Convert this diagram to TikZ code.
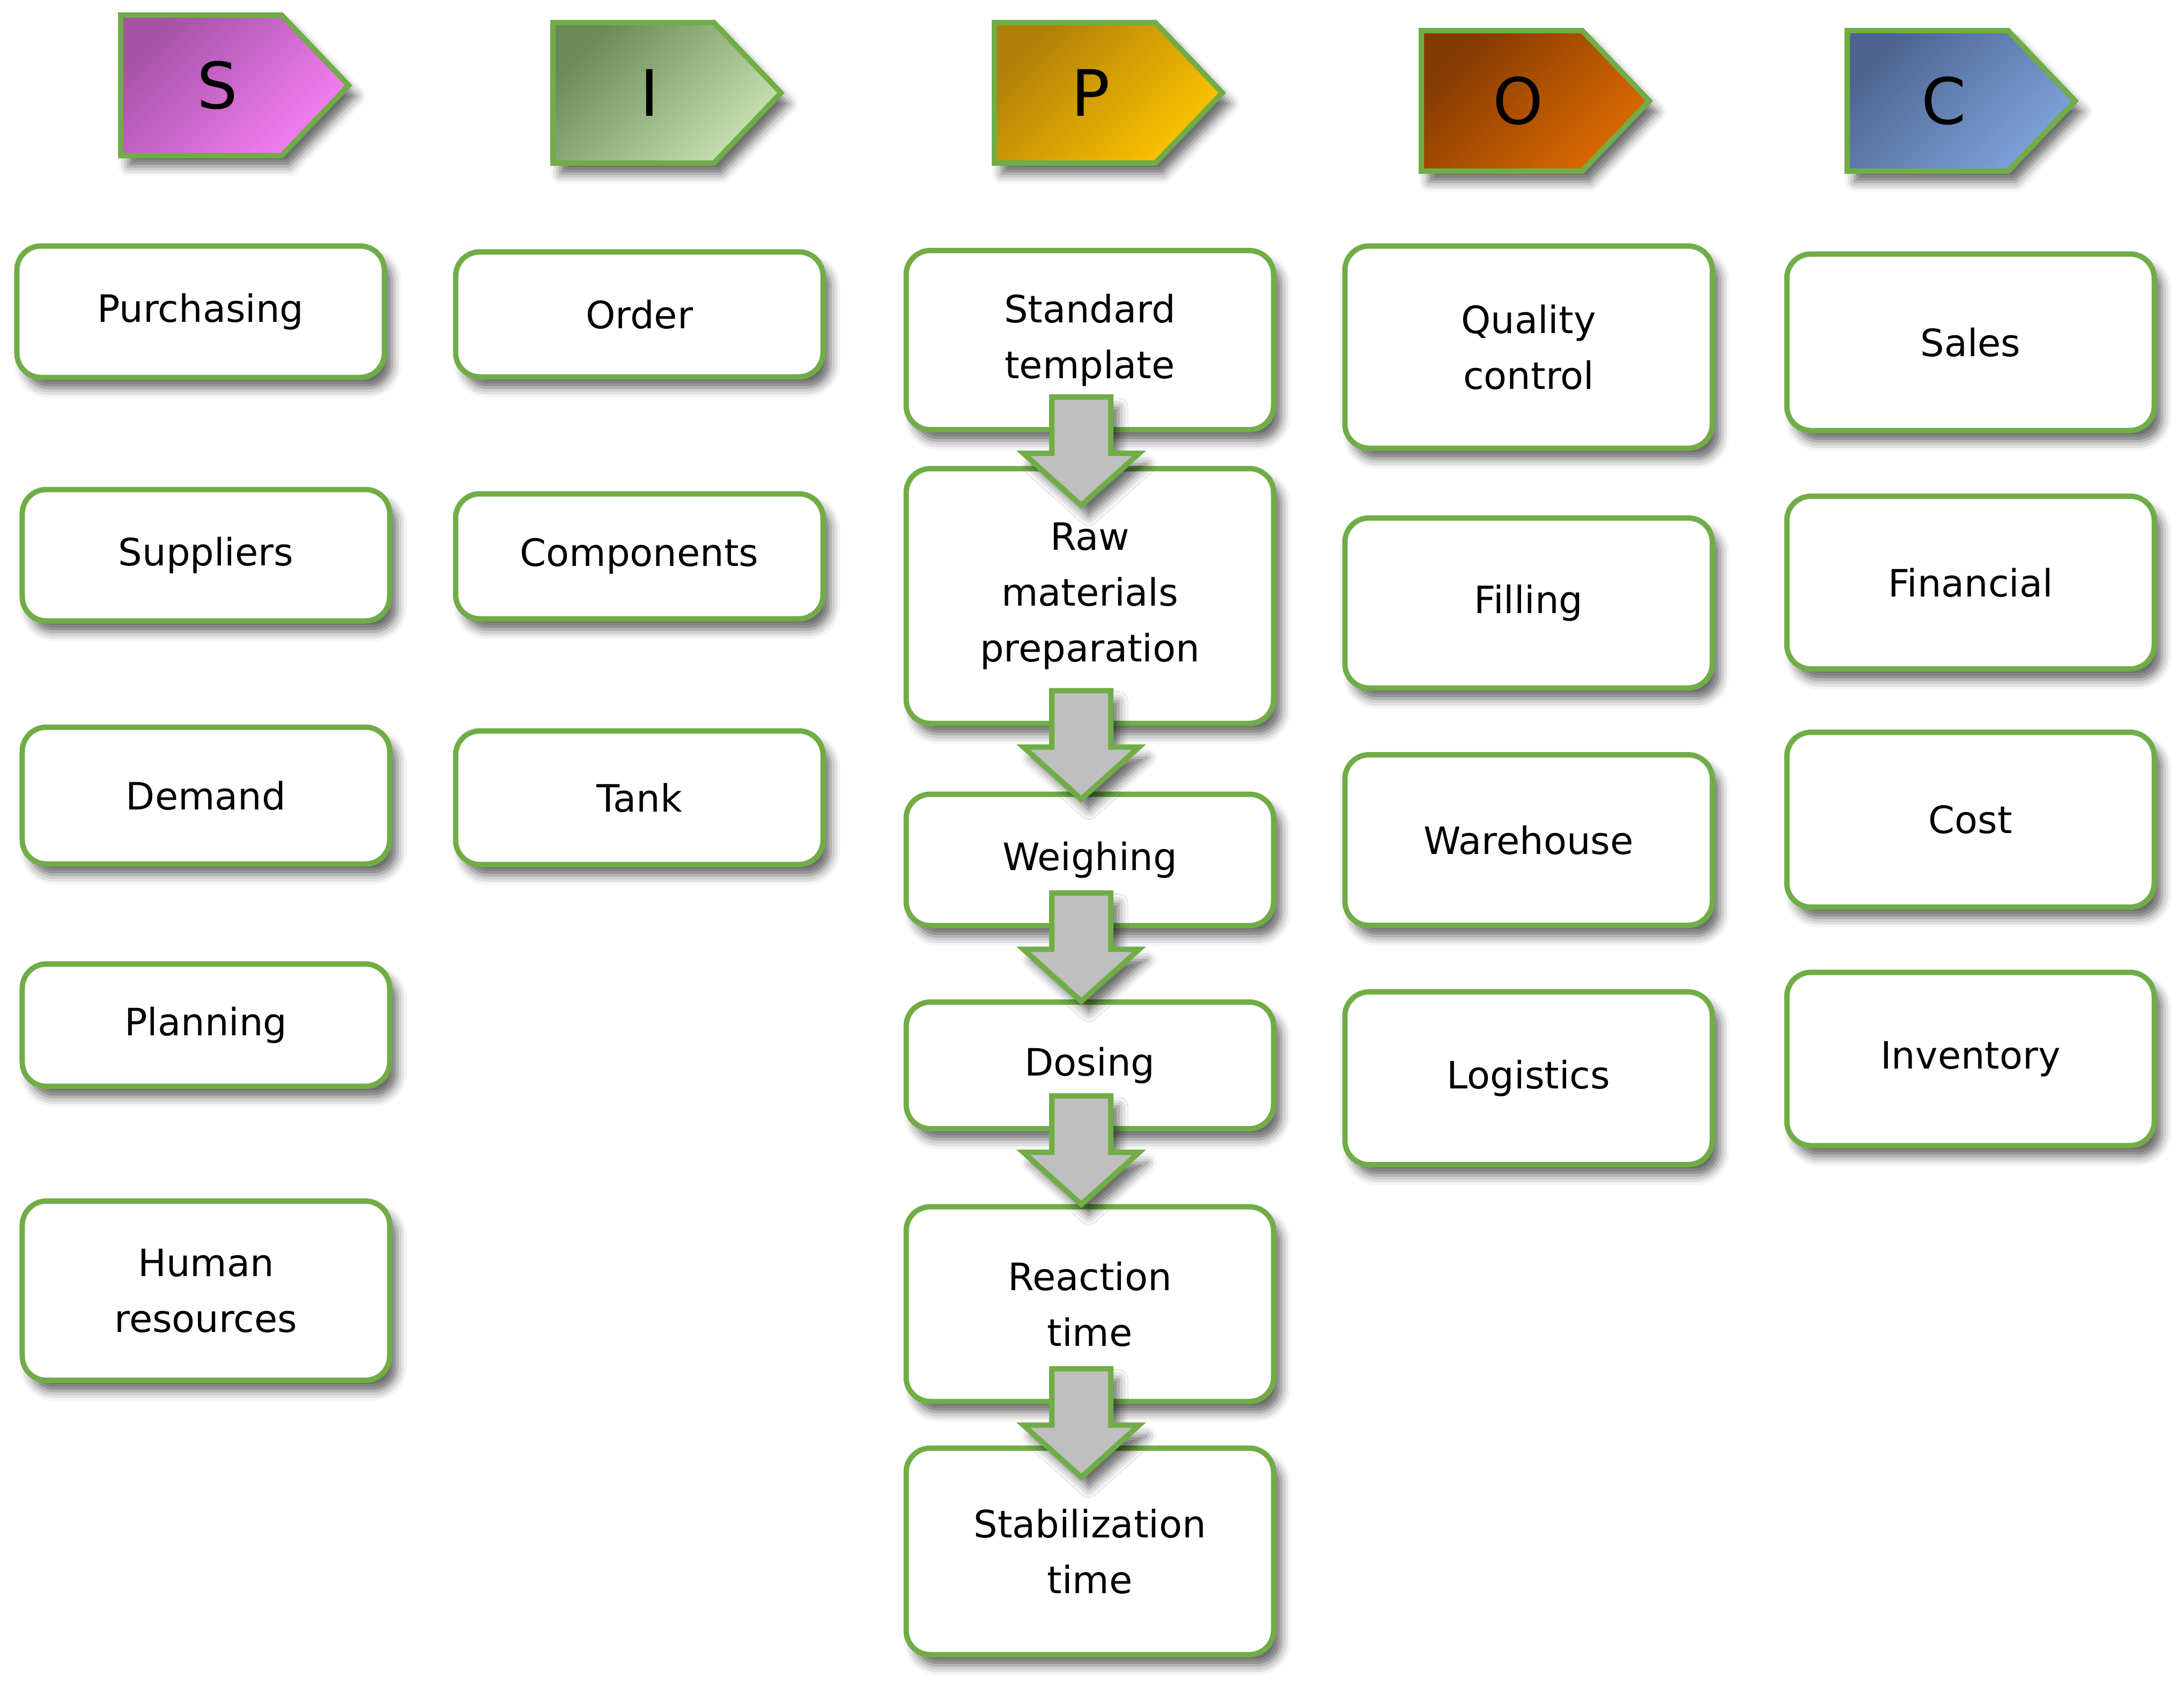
\documentclass[tikz,border=0pt]{standalone}
\usepackage{fontspec}
\usepackage{tikz}
\usetikzlibrary{calc,shadows.blur}
\setmainfont{DejaVu Sans}
\definecolor{edgegreen}{HTML}{70AD47}
\definecolor{arrowgray}{HTML}{BFBFBF}
\definecolor{sdark}{HTML}{A452A6}
\definecolor{slight}{HTML}{F77FF5}
\definecolor{idark}{HTML}{6A8A58}
\definecolor{ilight}{HTML}{C8E3B3}
\definecolor{pdark}{HTML}{B07F08}
\definecolor{plight}{HTML}{FFC400}
\definecolor{odark}{HTML}{833A05}
\definecolor{olight}{HTML}{DD6A00}
\definecolor{cdark}{HTML}{4D6490}
\definecolor{clight}{HTML}{80A3DC}

\tikzset{
  softshadow/.style={blur shadow={shadow xshift=0.14cm, shadow yshift=-0.2cm,
      shadow blur radius=0.18cm, shadow opacity=60}},
  box/.style={draw=edgegreen, line width=0.1cm, fill=white, rounded corners=0.45cm,
      minimum width=6.85cm, inner sep=0pt, align=center,
      font=\fontsize{20}{29.5}\selectfont, softshadow},
  headshape/.style={draw=edgegreen, line width=0.1cm, line join=miter, softshadow},
  headletter/.style={font=\fontsize{34}{40}\selectfont, text=black},
  blockarrow/.style={draw=edgegreen, fill=arrowgray, line width=0.1cm,
      line join=miter, softshadow},
}

\begin{document}
\begin{tikzpicture}

\useasboundingbox (0,0) rectangle (40.72,-31.42);

% --- layout helpers ---
\def\colS{3.84}   % supplier column x
\def\colI{11.92}  % input column x
\def\colP{20.32}  % process column x
\def\colO{28.50}  % output column x
\def\colC{36.74}  % customer column x

% --- header tag: name, left x, centre y, letter, colour stem
\newcommand{\sipochead}[5]{%
  \draw[headshape, top color=#5dark, bottom color=#5light, shading angle=45]
    (#2+0.05,#3+1.31) -- (#2+3.05,#3+1.31) -- (#2+4.30,#3)
    -- (#2+3.05,#3-1.31) -- (#2+0.05,#3-1.31) -- cycle;
  \node[headletter] (#1) at (#2+1.85,#3) {#4};
}

% --- block arrow hanging below a step: upper box, arrow name
\newcommand{\flowarrow}[2]{%
  \coordinate (#2) at ($(#1.south)+(-0.16,0.66)$);
  \draw[blockarrow] ($(#2)+(-0.55,0)$) -- ++(1.1,0) -- ++(0,-1.05) -- ++(0.53,0)
    -- ++(-1.08,-0.97) -- ++(-1.08,0.97) -- ++(0.53,0) -- cycle;
}

% --- headers ---
\sipochead{hS}{2.20}{-1.59}{S}{s}
\sipochead{hI}{10.26}{-1.73}{I}{i}
\sipochead{hP}{18.49}{-1.73}{P}{p}
\sipochead{hO}{26.45}{-1.88}{O}{o}
\sipochead{hC}{34.39}{-1.88}{C}{c}

% --- suppliers ---
\node[box, minimum height=2.45cm] (pur) at (\colS-0.1,-5.81) {Purchasing};
\node[box, minimum height=2.45cm] (sup) at (\colS,-10.35) {Suppliers};
\node[box, minimum height=2.55cm] (dem) at (\colS,-14.83) {Demand};
\node[box, minimum height=2.28cm] (pla) at (\colS,-19.11) {Planning};
\node[box, minimum height=3.34cm] (hum) at (\colS,-24.06) {Human\\resources};

% --- inputs ---
\node[box, minimum height=2.33cm] (ord) at (\colI,-5.86) {Order};
\node[box, minimum height=2.33cm] (com) at (\colI,-10.37) {Components};
\node[box, minimum height=2.49cm] (tan) at (\colI,-14.87) {Tank};

% --- process steps ---
\node[box, minimum height=3.34cm] (std) at (\colP,-6.34) {Standard\\template};
\node[box, minimum height=4.75cm] (raw) at (\colP,-11.11) {Raw\\materials\\preparation};
\node[box, minimum height=2.45cm] (wei) at (\colP,-16.03) {Weighing};
\node[box, minimum height=2.36cm] (dos) at (\colP,-19.86) {Dosing};
\node[box, minimum height=3.63cm] (rea) at (\colP,-24.31) {Reaction\\time};
\node[box, minimum height=3.85cm] (sta) at (\colP,-28.92) {Stabilization\\time};

% --- outputs ---
\node[box, minimum height=3.77cm] (qua) at (\colO,-6.47) {Quality\\control};
\node[box, minimum height=3.17cm] (fil) at (\colO,-11.24) {Filling};
\node[box, minimum height=3.18cm] (war) at (\colO,-15.66) {Warehouse};
\node[box, minimum height=3.22cm] (log) at (\colO,-20.10) {Logistics};

% --- customers ---
\node[box, minimum height=3.29cm] (sal) at (\colC,-6.38) {Sales};
\node[box, minimum height=3.22cm] (fin) at (\colC,-10.86) {Financial};
\node[box, minimum height=3.26cm] (cos) at (\colC,-15.28) {Cost};
\node[box, minimum height=3.23cm] (inv) at (\colC,-19.74) {Inventory};

% --- flow through the process ---
\flowarrow{std}{a1}
\flowarrow{raw}{a2}
\flowarrow{wei}{a3}
\flowarrow{dos}{a4}
\flowarrow{rea}{a5}

\end{tikzpicture}
\end{document}
